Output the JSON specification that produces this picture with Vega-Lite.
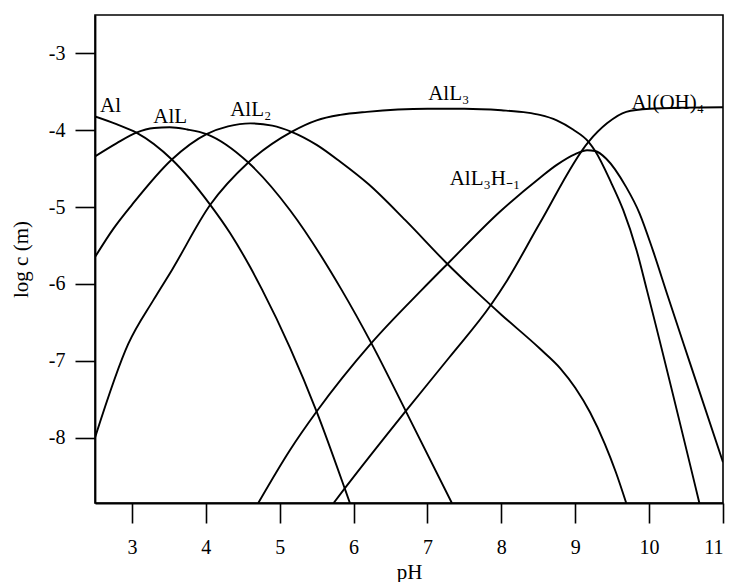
{
  "$schema": "https://vega.github.io/schema/vega-lite/v6.json",
  "width": 628,
  "height": 488,
  "autosize": {"type": "none"},
  "padding": {"left": 95, "top": 15, "right": 9, "bottom": 79},
  "background": "white",
  "config": {
    "view": {"stroke": "black", "strokeWidth": 1.6},
    "axis": {
      "domainColor": "black", "domainWidth": 1.8,
      "tickColor": "black", "tickWidth": 1.6, "tickSize": 20,
      "labelFont": "Liberation Serif", "labelFontSize": 20, "labelColor": "black",
      "titleFont": "Liberation Serif", "titleFontSize": 21, "titleFontWeight": "normal", "titleColor": "black",
      "grid": false
    }
  },
  "datasets": {
    "curves": [
      {"species": "Al", "pH": 2.5, "logc": -3.82},
      {"species": "Al", "pH": 2.79, "logc": -3.92},
      {"species": "Al", "pH": 3.06, "logc": -4.03},
      {"species": "Al", "pH": 3.54, "logc": -4.38},
      {"species": "Al", "pH": 4.06, "logc": -4.97},
      {"species": "Al", "pH": 4.33, "logc": -5.34},
      {"species": "Al", "pH": 4.6, "logc": -5.78},
      {"species": "Al", "pH": 4.76, "logc": -6.07},
      {"species": "Al", "pH": 5.14, "logc": -6.83},
      {"species": "Al", "pH": 5.5, "logc": -7.66},
      {"species": "Al", "pH": 5.88, "logc": -8.66},
      {"species": "Al", "pH": 5.95, "logc": -8.85},

      {"species": "AlL", "pH": 2.5, "logc": -4.34},
      {"species": "AlL", "pH": 2.79, "logc": -4.17},
      {"species": "AlL", "pH": 3.06, "logc": -4.03},
      {"species": "AlL", "pH": 3.3, "logc": -3.97},
      {"species": "AlL", "pH": 3.51, "logc": -3.96},
      {"species": "AlL", "pH": 3.75, "logc": -3.99},
      {"species": "AlL", "pH": 4.01, "logc": -4.05},
      {"species": "AlL", "pH": 4.575, "logc": -4.42},
      {"species": "AlL", "pH": 5.14, "logc": -5.04},
      {"species": "AlL", "pH": 5.84, "logc": -6.08},
      {"species": "AlL", "pH": 6.24, "logc": -6.77},
      {"species": "AlL", "pH": 6.72, "logc": -7.68},
      {"species": "AlL", "pH": 7.33, "logc": -8.85},

      {"species": "AlL2", "pH": 2.5, "logc": -5.65},
      {"species": "AlL2", "pH": 2.75, "logc": -5.28},
      {"species": "AlL2", "pH": 3.0, "logc": -4.97},
      {"species": "AlL2", "pH": 3.54, "logc": -4.38},
      {"species": "AlL2", "pH": 4.01, "logc": -4.05},
      {"species": "AlL2", "pH": 4.3, "logc": -3.95},
      {"species": "AlL2", "pH": 4.6, "logc": -3.91},
      {"species": "AlL2", "pH": 4.9, "logc": -3.94},
      {"species": "AlL2", "pH": 5.16, "logc": -4.02},
      {"species": "AlL2", "pH": 5.5, "logc": -4.19},
      {"species": "AlL2", "pH": 5.82, "logc": -4.41},
      {"species": "AlL2", "pH": 6.2, "logc": -4.7},
      {"species": "AlL2", "pH": 6.7, "logc": -5.17},
      {"species": "AlL2", "pH": 7.26, "logc": -5.73},
      {"species": "AlL2", "pH": 7.66, "logc": -6.1},
      {"species": "AlL2", "pH": 8.0, "logc": -6.4},
      {"species": "AlL2", "pH": 8.52, "logc": -6.84},
      {"species": "AlL2", "pH": 8.8, "logc": -7.1},
      {"species": "AlL2", "pH": 9.0, "logc": -7.35},
      {"species": "AlL2", "pH": 9.2, "logc": -7.67},
      {"species": "AlL2", "pH": 9.4, "logc": -8.08},
      {"species": "AlL2", "pH": 9.55, "logc": -8.45},
      {"species": "AlL2", "pH": 9.69, "logc": -8.85},

      {"species": "AlL3", "pH": 2.5, "logc": -8.0},
      {"species": "AlL3", "pH": 2.95, "logc": -6.78},
      {"species": "AlL3", "pH": 3.29, "logc": -6.21},
      {"species": "AlL3", "pH": 3.54, "logc": -5.82},
      {"species": "AlL3", "pH": 4.06, "logc": -4.97},
      {"species": "AlL3", "pH": 4.575, "logc": -4.42},
      {"species": "AlL3", "pH": 5.16, "logc": -4.02},
      {"species": "AlL3", "pH": 5.5, "logc": -3.87},
      {"species": "AlL3", "pH": 5.82, "logc": -3.8},
      {"species": "AlL3", "pH": 6.18, "logc": -3.76},
      {"species": "AlL3", "pH": 6.6, "logc": -3.73},
      {"species": "AlL3", "pH": 7.0, "logc": -3.72},
      {"species": "AlL3", "pH": 7.5, "logc": -3.72},
      {"species": "AlL3", "pH": 8.0, "logc": -3.74},
      {"species": "AlL3", "pH": 8.35, "logc": -3.77},
      {"species": "AlL3", "pH": 8.52, "logc": -3.8},
      {"species": "AlL3", "pH": 8.75, "logc": -3.87},
      {"species": "AlL3", "pH": 8.97, "logc": -3.99},
      {"species": "AlL3", "pH": 9.18, "logc": -4.15},
      {"species": "AlL3", "pH": 9.27, "logc": -4.27},
      {"species": "AlL3", "pH": 9.49, "logc": -4.69},
      {"species": "AlL3", "pH": 9.65, "logc": -5.04},
      {"species": "AlL3", "pH": 9.83, "logc": -5.56},
      {"species": "AlL3", "pH": 9.97, "logc": -6.08},
      {"species": "AlL3", "pH": 10.68, "logc": -8.85},

      {"species": "AlL3H-1", "pH": 4.71, "logc": -8.85},
      {"species": "AlL3H-1", "pH": 5.14, "logc": -8.16},
      {"species": "AlL3H-1", "pH": 5.5, "logc": -7.66},
      {"species": "AlL3H-1", "pH": 6.24, "logc": -6.77},
      {"species": "AlL3H-1", "pH": 6.92, "logc": -6.08},
      {"species": "AlL3H-1", "pH": 7.28, "logc": -5.73},
      {"species": "AlL3H-1", "pH": 7.98, "logc": -5.06},
      {"species": "AlL3H-1", "pH": 8.52, "logc": -4.62},
      {"species": "AlL3H-1", "pH": 8.75, "logc": -4.45},
      {"species": "AlL3H-1", "pH": 9.0, "logc": -4.31},
      {"species": "AlL3H-1", "pH": 9.16, "logc": -4.26},
      {"species": "AlL3H-1", "pH": 9.27, "logc": -4.27},
      {"species": "AlL3H-1", "pH": 9.42, "logc": -4.37},
      {"species": "AlL3H-1", "pH": 9.69, "logc": -4.74},
      {"species": "AlL3H-1", "pH": 9.87, "logc": -5.08},
      {"species": "AlL3H-1", "pH": 10.05, "logc": -5.56},
      {"species": "AlL3H-1", "pH": 10.25, "logc": -6.15},
      {"species": "AlL3H-1", "pH": 10.55, "logc": -7.02},
      {"species": "AlL3H-1", "pH": 11.0, "logc": -8.32},

      {"species": "Al(OH)4", "pH": 5.73, "logc": -8.85},
      {"species": "Al(OH)4", "pH": 5.88, "logc": -8.66},
      {"species": "Al(OH)4", "pH": 6.7, "logc": -7.66},
      {"species": "Al(OH)4", "pH": 7.3, "logc": -6.95},
      {"species": "Al(OH)4", "pH": 7.86, "logc": -6.27},
      {"species": "Al(OH)4", "pH": 8.08, "logc": -5.95},
      {"species": "Al(OH)4", "pH": 8.52, "logc": -5.21},
      {"species": "Al(OH)4", "pH": 9.18, "logc": -4.15},
      {"species": "Al(OH)4", "pH": 9.43, "logc": -3.91},
      {"species": "Al(OH)4", "pH": 9.69, "logc": -3.76},
      {"species": "Al(OH)4", "pH": 10.01, "logc": -3.72},
      {"species": "Al(OH)4", "pH": 10.5, "logc": -3.705},
      {"species": "Al(OH)4", "pH": 11.0, "logc": -3.7}
    ],
    "labels": [
      {"label": "Al", "pH": 2.568, "logc": -3.76},
      {"label": "AlL", "pH": 3.29, "logc": -3.905},
      {"label": "AlL₂", "pH": 4.33, "logc": -3.81},
      {"label": "AlL₃", "pH": 7.01, "logc": -3.6},
      {"label": "AlL₃H₋₁", "pH": 7.3, "logc": -4.71},
      {"label": "Al(OH)₄", "pH": 9.76, "logc": -3.72}
    ]
  },
  "layer": [
    {
      "data": {"name": "curves"},
      "mark": {"type": "line", "interpolate": "monotone", "color": "black", "strokeWidth": 1.9, "clip": true},
      "encoding": {
        "x": {"field": "pH", "type": "quantitative",
          "scale": {"domain": [2.5, 11], "nice": false, "zero": false},
          "axis": {"values": [3, 4, 5, 6, 7, 8, 9, 10, 11], "title": "pH", "labelPadding": 14, "titlePadding": 4, "labelExpr": "datum.value + ''"}},
        "y": {"field": "logc", "type": "quantitative",
          "scale": {"domain": [-8.85, -2.5], "nice": false, "zero": false},
          "axis": {"values": [-3, -4, -5, -6, -7, -8], "title": "log c (m)", "labelPadding": 10, "titlePadding": 17, "labelExpr": "datum.value + ''"}},
        "detail": {"field": "species", "type": "nominal"}
      }
    },
    {
      "data": {"name": "labels"},
      "mark": {"type": "text", "align": "left", "baseline": "alphabetic", "font": "Liberation Serif", "fontSize": 21, "color": "black"},
      "encoding": {
        "x": {"field": "pH", "type": "quantitative"},
        "y": {"field": "logc", "type": "quantitative"},
        "text": {"field": "label"}
      }
    }
  ]
}
